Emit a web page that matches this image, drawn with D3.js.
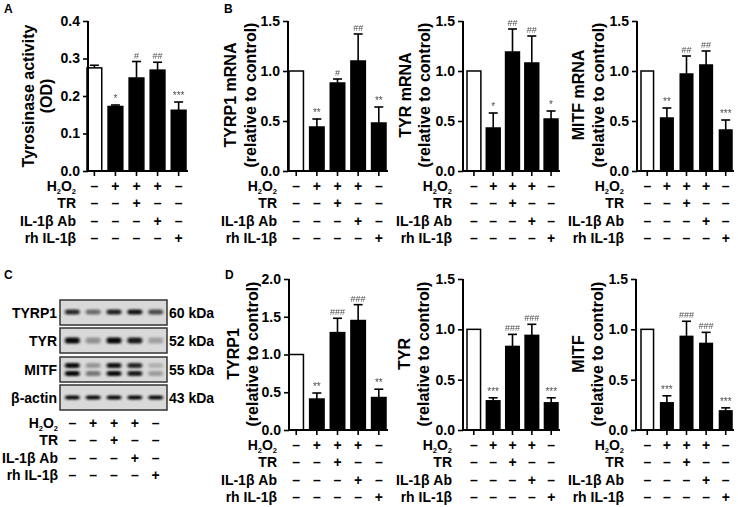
<!DOCTYPE html>
<html><head><meta charset="utf-8">
<script src="https://cdn.jsdelivr.net/npm/d3@7"></script>
<style>
body{margin:0;background:#fff;}
svg{display:block;font-family:"Liberation Sans",Arial,Helvetica,sans-serif;font-weight:bold;}
.sig{opacity:0.72;}
</style></head><body>
<svg id="c" width="738" height="507"></svg>
<script>
// ---------- DATA ----------
const groups = ["Control", "H2O2", "H2O2+TR", "H2O2+IL-1β Ab", "rh IL-1β"];
const rowLabels = ["H2O2", "TR", "IL-1β Ab", "rh IL-1β"];
const signH2O2 = ["–", "+", "+", "+", "–"];
const signTR   = ["–", "–", "+", "–", "–"];
const signAb   = ["–", "–", "–", "+", "–"];
const signRh   = ["–", "–", "–", "–", "+"];
const signRows = [signH2O2, signTR, signAb, signRh];

const tyrActMean = [0.275, 0.172, 0.248, 0.269, 0.162];
const tyrActErr  = [0.007, 0.004, 0.044, 0.021, 0.022];
const tyrActSig  = ["", "*", "#", "##", "***"];

const tyrp1mRNAMean = [1.0, 0.44, 0.88, 1.10, 0.48];
const tyrp1mRNAErr  = [0, 0.08, 0.04, 0.27, 0.16];
const tyrp1mRNASig  = ["", "**", "#", "##", "**"];

const tyrmRNAMean = [1.0, 0.43, 1.19, 1.08, 0.52];
const tyrmRNAErr  = [0, 0.15, 0.23, 0.27, 0.08];
const tyrmRNASig  = ["", "*", "##", "##", "*"];

const mitfmRNAMean = [1.0, 0.53, 0.97, 1.06, 0.41];
const mitfmRNAErr  = [0, 0.10, 0.18, 0.14, 0.10];
const mitfmRNASig  = ["", "**", "##", "##", "***"];

const tyrp1ProtMean = [1.0, 0.41, 1.29, 1.45, 0.43];
const tyrp1ProtErr  = [0, 0.08, 0.19, 0.21, 0.11];
const tyrp1ProtSig  = ["", "**", "###", "###", "**"];

const tyrProtMean = [1.0, 0.29, 0.83, 0.94, 0.27];
const tyrProtErr  = [0, 0.03, 0.12, 0.11, 0.05];
const tyrProtSig  = ["", "***", "###", "###", "***"];

const mitfProtMean = [1.0, 0.27, 0.93, 0.86, 0.19];
const mitfProtErr  = [0, 0.07, 0.15, 0.11, 0.03];
const mitfProtSig  = ["", "***", "###", "###", "***"];

// Western blot (band darkness 0..1 per lane)
const blotProteins = ["TYRP1", "TYR", "MITF", "β-actin"];
const blotSizes = ["60 kDa", "52 kDa", "55 kDa", "43 kDa"];
const bandTYRP1 = [0.82, 0.50, 0.86, 0.92, 0.66];
const bandTYR   = [0.96, 0.33, 0.97, 0.88, 0.26];
const bandMITFupper = [0.95, 0.30, 0.92, 0.82, 0.18];
const bandMITFlower = [0.97, 0.45, 0.95, 0.88, 0.28];
const bandActin = [0.97, 0.97, 0.97, 0.97, 0.97];

// ---------- DRAWING ----------
const svg = d3.select("#c");
const defs = svg.append("defs");
defs.append("filter").attr("id", "blur").attr("x", "-50%").attr("y", "-100%").attr("width", "200%").attr("height", "300%")
  .append("feGaussianBlur").attr("stdDeviation", "1.4 0.9");

function h2o2Label(sel) {
  sel.append("tspan").text("H");
  sel.append("tspan").text("2").attr("font-size", 7.5).attr("dy", 3);
  sel.append("tspan").text("O").attr("dy", -3);
  sel.append("tspan").text("2").attr("font-size", 7.5).attr("dy", 3);
}

function drawRows(g, xCenters, rowRight, baseY) {
  const offs = [0, 17.3, 34.6, 52];
  rowLabels.forEach((lab, i) => {
    const t = g.append("text").attr("x", rowRight).attr("y", baseY + offs[i])
      .attr("text-anchor", "end").attr("font-size", 14);
    if (lab === "H2O2") h2o2Label(t); else t.text(lab);
    signRows[i].forEach((s, j) => {
      g.append("text").attr("x", xCenters[j]).attr("y", baseY + offs[i])
        .attr("text-anchor", "middle").attr("font-size", 14).text(s);
    });
  });
}

function drawPanel(cfg, mean, err, sig) {
  const g = svg.append("g");
  const x = d3.scaleBand().domain(groups).range(cfg.xRange).paddingInner(cfg.pad).paddingOuter(0);
  const y = d3.scaleLinear().domain(cfg.yDomain).range([cfg.yBottom, cfg.yTop]);

  // bars
  g.selectAll("rect.bar").data(groups).enter().append("rect")
    .attr("x", d => x(d)).attr("width", x.bandwidth())
    .attr("y", (d, i) => y(mean[i])).attr("height", (d, i) => y(0) - y(mean[i]))
    .attr("fill", (d, i) => i === 0 ? "#fff" : "#000")
    .attr("stroke", "#000").attr("stroke-width", 1.5);

  // error bars (upper only)
  groups.forEach((d, i) => {
    if (err[i] <= 0) return;
    const cx = x(d) + x.bandwidth() / 2;
    g.append("line").attr("x1", cx).attr("x2", cx).attr("y1", y(mean[i])).attr("y2", y(mean[i] + err[i]))
      .attr("stroke", "#000").attr("stroke-width", 1.6);
    g.append("line").attr("x1", cx - 4.5).attr("x2", cx + 4.5).attr("y1", y(mean[i] + err[i])).attr("y2", y(mean[i] + err[i]))
      .attr("stroke", "#000").attr("stroke-width", 1.6);
    if (sig[i]) {
      g.append("text").attr("class", "sig").attr("x", cx).attr("y", y(mean[i] + err[i]) - 3)
        .attr("text-anchor", "middle").attr("font-size", sig[i].includes("#") ? 9 : 10)
        .attr("font-weight", "normal").attr("fill", "#000").text(sig[i]);
    }
  });

  // y axis
  const ya = g.append("g").attr("transform", `translate(${cfg.axisX},0)`)
    .call(d3.axisLeft(y).tickValues(cfg.ticks).tickFormat(d3.format(".1f")).tickSize(5).tickSizeOuter(0).tickPadding(3));
  ya.select(".domain").attr("stroke-width", 2).attr("d", `M0,${cfg.yTop}V${cfg.yBottom + 1}`);
  ya.selectAll(".tick line").attr("stroke-width", 1.6);
  ya.selectAll(".tick text").attr("font-size", 14).attr("font-family", "Liberation Sans, Arial, sans-serif").attr("font-weight", "bold").attr("fill", "#000");

  // x axis
  g.append("line").attr("x1", cfg.axisX - 1).attr("x2", cfg.xRange[1] + 2)
    .attr("y1", cfg.yBottom).attr("y2", cfg.yBottom).attr("stroke", "#000").attr("stroke-width", 2);
  const centers = groups.map(d => x(d) + x.bandwidth() / 2);
  centers.forEach(cx => g.append("line").attr("x1", cx).attr("x2", cx).attr("y1", cfg.yBottom).attr("y2", cfg.yBottom + 5)
    .attr("stroke", "#000").attr("stroke-width", 1.6));

  // y label (two lines)
  cfg.ylab.forEach((t, k) => {
    g.append("text").attr("transform", `translate(${cfg.ylabX[k]},${cfg.ylabCY}) rotate(-90)`)
      .attr("text-anchor", "middle").attr("dominant-baseline", "central").attr("font-size", 16).text(t);
  });

  drawRows(g, centers, cfg.rowRight, cfg.yBottom + 20);
}

// Panel A
drawPanel({xRange: [87, 186], pad: 0.3, axisX: 88, yTop: 21, yBottom: 171, yDomain: [0, 0.4], ticks: [0, 0.1, 0.2, 0.3, 0.4],
  ylab: ["Tyrosinase activity", "(OD)"], ylabX: [28, 46], ylabCY: 96, rowRight: 76}, tyrActMean, tyrActErr, tyrActSig);
// Panel B
drawPanel({xRange: [289, 386], pad: 0.3, axisX: 288, yTop: 21, yBottom: 171, yDomain: [0, 1.5], ticks: [0, 0.5, 1.0, 1.5],
  ylab: ["TYRP1 mRNA", "(relative to control)"], ylabX: [230, 250], ylabCY: 95, rowRight: 277}, tyrp1mRNAMean, tyrp1mRNAErr, tyrp1mRNASig);
drawPanel({xRange: [467, 558], pad: 0.28, axisX: 463, yTop: 21, yBottom: 171, yDomain: [0, 1.5], ticks: [0, 0.5, 1.0, 1.5],
  ylab: ["TYR mRNA", "(relative to control)"], ylabX: [405, 424], ylabCY: 95, rowRight: 452}, tyrmRNAMean, tyrmRNAErr, tyrmRNASig);
drawPanel({xRange: [641, 732], pad: 0.36, axisX: 637, yTop: 21, yBottom: 171, yDomain: [0, 1.5], ticks: [0, 0.5, 1.0, 1.5],
  ylab: ["MITF mRNA", "(relative to control)"], ylabX: [578, 598], ylabCY: 95, rowRight: 624}, mitfmRNAMean, mitfmRNAErr, mitfmRNASig);
// Panel D
drawPanel({xRange: [289, 386], pad: 0.3, axisX: 289, yTop: 279, yBottom: 430, yDomain: [0, 2.0], ticks: [0, 0.5, 1.0, 1.5, 2.0],
  ylab: ["TYRP1", "(relative to control)"], ylabX: [233, 252], ylabCY: 354, rowRight: 277}, tyrp1ProtMean, tyrp1ProtErr, tyrp1ProtSig);
drawPanel({xRange: [467, 558], pad: 0.3, axisX: 463, yTop: 279, yBottom: 430, yDomain: [0, 1.5], ticks: [0, 0.5, 1.0, 1.5],
  ylab: ["TYR", "(relative to control)"], ylabX: [404, 423], ylabCY: 354, rowRight: 452}, tyrProtMean, tyrProtErr, tyrProtSig);
drawPanel({xRange: [641, 732], pad: 0.36, axisX: 636, yTop: 279, yBottom: 430, yDomain: [0, 1.5], ticks: [0, 0.5, 1.0, 1.5],
  ylab: ["MITF", "(relative to control)"], ylabX: [578, 597], ylabCY: 354, rowRight: 624}, mitfProtMean, mitfProtErr, mitfProtSig);

// Panel C: western blot
(function () {
  const g = svg.append("g");
  const lanes = d3.scaleBand().domain(groups).range([64, 164]).paddingInner(0.2).paddingOuter(0);
  const boxes = [300, 328, 357, 385];
  const boxH = 25;
  const bands = [
    [{d: bandTYRP1, dy: -0.5, h: 5}],
    [{d: bandTYR, dy: 0, h: 6}],
    [{d: bandMITFupper, dy: -4, h: 5}, {d: bandMITFlower, dy: 4, h: 5}],
    [{d: bandActin, dy: 0, h: 4}]
  ];
  blotProteins.forEach((p, k) => {
    const top = boxes[k];
    g.append("rect").attr("x", 60).attr("y", top).attr("width", 107).attr("height", boxH)
      .attr("fill", "#d9d9d9");
    bands[k].forEach(b => {
      b.d.forEach((v, i) => {
        g.append("rect").attr("x", lanes(groups[i]) + 1).attr("width", lanes.bandwidth() - 2)
          .attr("y", top + boxH / 2 + b.dy - b.h / 2).attr("height", b.h).attr("rx", 2)
          .attr("fill", "#050505").attr("opacity", v).attr("filter", "url(#blur)");
      });
    });
    g.append("rect").attr("x", 60).attr("y", top).attr("width", 107).attr("height", boxH)
      .attr("fill", "none").attr("stroke", "#333").attr("stroke-width", 1.5);
    g.append("text").attr("x", 57).attr("y", top + boxH / 2 + 5).attr("text-anchor", "end").attr("font-size", 14).text(p);
    g.append("text").attr("x", 169).attr("y", top + boxH / 2 + 5).attr("font-size", 14).text(blotSizes[k]);
  });
  const centers = groups.map(d => lanes(d) + lanes.bandwidth() / 2);
  drawRows(g, centers, 58, 428);
})();

// panel letters
[["A", 4, 13], ["B", 224, 13], ["C", 4, 279], ["D", 225, 279]].forEach(([t, x, y]) =>
  svg.append("text").attr("x", x).attr("y", y).attr("font-size", 12).text(t));
</script>
</body></html>
